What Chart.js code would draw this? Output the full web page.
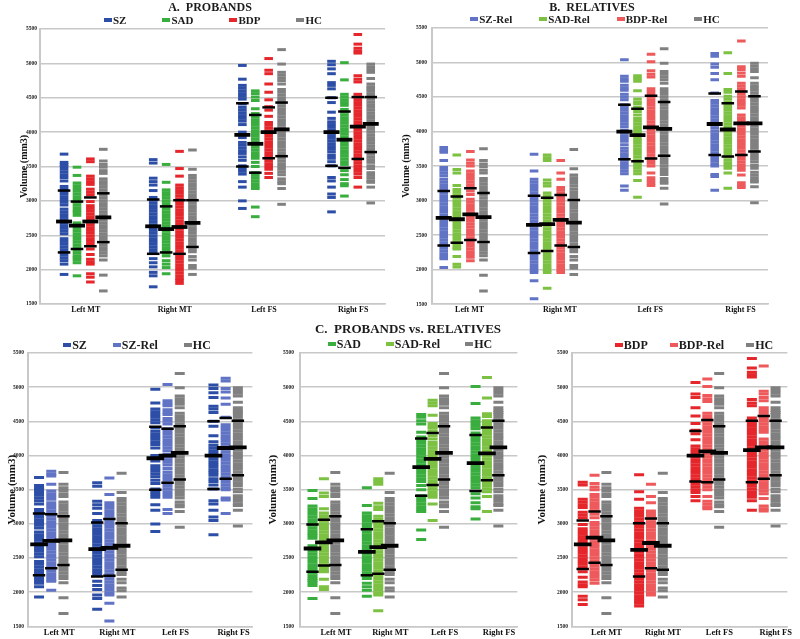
<!DOCTYPE html>
<html>
<head>
<meta charset="utf-8">
<script src="https://cdn.jsdelivr.net/npm/chart.js@4.4.1/dist/chart.umd.min.js"></script>
<style>
html, body { margin: 0; padding: 0; background: #fff; }
body { position: relative; width: 800px; height: 639px; overflow: hidden; font-family: "Liberation Serif", "Times New Roman", serif; }
canvas { position: absolute; }
.ttl { position: absolute; text-align: center; font-weight: bold; white-space: pre; color: #1b1b1b; line-height: 14px; }
.leg { position: absolute; display: flex; justify-content: center; align-items: center; font-weight: bold; color: #1b1b1b; line-height: 14px; }
.leg .item { display: flex; align-items: center; }
.leg i { display: inline-block; width: 8px; height: 4px; margin-right: 1px; }
</style>
</head>
<body>
<canvas id="chartA" width="400" height="316" style="left:0;top:0"></canvas>
<canvas id="chartB" width="400" height="316" style="left:400px;top:0"></canvas>
<canvas id="chartC1" width="265" height="323" style="left:0;top:316px"></canvas>
<canvas id="chartC2" width="265" height="323" style="left:265px;top:316px"></canvas>
<canvas id="chartC3" width="270" height="323" style="left:530px;top:316px"></canvas>

<div class="ttl" style="left:0;width:420px;top:0;font-size:12px">A.  PROBANDS</div>
<div class="ttl" style="left:400px;width:384px;top:0;font-size:12px">B.  RELATIVES</div>
<div class="ttl" style="left:265px;width:286px;top:322px;font-size:13px">C.  PROBANDS vs. RELATIVES</div>

<div class="leg" id="legA" style="left:0;width:426px;top:13px;font-size:11px;gap:36px"></div>
<div class="leg" id="legB" style="left:400px;width:390px;top:12px;font-size:11px;gap:27px"></div>
<div class="leg" id="legC1" style="left:0;width:274px;top:338px;font-size:12px;gap:26px"></div>
<div class="leg" id="legC2" style="left:265px;width:290px;top:337px;font-size:12px;gap:25px"></div>
<div class="leg" id="legC3" style="left:530px;width:328px;top:338px;font-size:12px;gap:22px"></div>

<script>
const regions = ["Left MT", "Right MT", "Left FS", "Right FS"];

// individual subject volumes, one list per region: [Left MT, Right MT, Left FS, Right FS]
const szVals = [
    [3680, 3560, 3530, 3500, 3460, 3420, 3380, 3340, 3290, 3210, 3170, 3130, 3100, 3060, 3020, 2980, 2940, 2880, 2840, 2800, 2760, 2720, 2680, 2640, 2600, 2560, 2520, 2450, 2410, 2370, 2330, 2290, 2250, 2210, 2170, 2130, 2080, 1930],
    [3600, 3550, 3330, 3280, 3230, 3150, 3050, 3010, 2970, 2930, 2890, 2850, 2810, 2770, 2730, 2690, 2650, 2610, 2570, 2530, 2490, 2450, 2410, 2370, 2330, 2290, 2250, 2160, 2100, 2040, 1960, 1910, 1750],
    [4970, 4770, 4680, 4640, 4600, 4560, 4520, 4480, 4410, 4360, 4320, 4280, 4240, 4200, 4160, 4110, 4000, 3960, 3920, 3850, 3810, 3770, 3730, 3690, 3640, 3590, 3510, 3470, 3430, 3390, 3280, 3200, 3000, 2890],
    [5030, 4980, 4920, 4850, 4720, 4680, 4630, 4500, 4430, 4290, 4200, 4150, 4110, 4070, 4030, 3990, 3950, 3910, 3870, 3830, 3790, 3750, 3710, 3660, 3620, 3570, 3510, 3340, 3290, 3200, 3100, 3050, 2840]
];
const sadVals = [
    [3490, 3370, 3260, 3220, 3180, 3140, 3100, 3060, 3020, 2980, 2940, 2900, 2860, 2830, 2790, 2680, 2640, 2600, 2560, 2520, 2480, 2440, 2400, 2360, 2320, 2280, 2240, 2200, 2170, 2140, 2100, 1910],
    [3530, 3270, 3160, 3120, 3080, 3040, 3000, 2960, 2920, 2880, 2840, 2800, 2760, 2720, 2680, 2640, 2600, 2560, 2520, 2480, 2440, 2400, 2360, 2320, 2280, 2240, 2200, 2130, 2080, 2030, 1940],
    [4600, 4560, 4510, 4460, 4340, 4270, 4220, 4180, 4140, 4100, 4060, 4020, 3980, 3940, 3900, 3860, 3820, 3780, 3740, 3700, 3660, 3620, 3560, 3500, 3410, 3370, 3330, 3290, 3250, 3210, 3180, 2910, 2770],
    [5010, 4760, 4550, 4510, 4470, 4430, 4390, 4330, 4290, 4250, 4210, 4170, 4130, 4090, 4050, 4010, 3970, 3930, 3890, 3850, 3810, 3770, 3730, 3690, 3650, 3610, 3570, 3530, 3440, 3380, 3310, 3250, 3220, 3070]
];
const bdpVals = [
    [3610, 3570, 3360, 3320, 3280, 3240, 3170, 3130, 3090, 2990, 2930, 2890, 2850, 2810, 2770, 2730, 2690, 2650, 2610, 2570, 2530, 2490, 2450, 2410, 2370, 2300, 2220, 2150, 2110, 2080, 1940, 1890, 1820],
    [3720, 3470, 3360, 3230, 3190, 3150, 3110, 3070, 3030, 2990, 2950, 2910, 2870, 2830, 2790, 2750, 2710, 2670, 2630, 2590, 2550, 2510, 2470, 2430, 2390, 2350, 2310, 2270, 2230, 2190, 2150, 2110, 2070, 2030, 1990, 1950, 1910, 1870, 1840, 1800],
    [5070, 4900, 4850, 4700, 4580, 4470, 4370, 4320, 4230, 4140, 4100, 4060, 4020, 3980, 3940, 3900, 3860, 3820, 3780, 3740, 3700, 3660, 3620, 3580, 3540, 3500, 3460, 3400, 3340],
    [5420, 5280, 5220, 5180, 5150, 4820, 4770, 4730, 4550, 4510, 4470, 4430, 4390, 4350, 4310, 4270, 4230, 4190, 4150, 4110, 4070, 4030, 3990, 3950, 3910, 3870, 3830, 3790, 3750, 3710, 3670, 3630, 3590, 3550, 3510, 3470, 3430, 3390, 3340, 3200]
];
const hcVals = [
    [3750, 3580, 3530, 3490, 3440, 3400, 3320, 3280, 3240, 3200, 3160, 3120, 3080, 3040, 3000, 2960, 2920, 2880, 2840, 2800, 2760, 2720, 2680, 2640, 2600, 2560, 2520, 2480, 2440, 2400, 2360, 2320, 2280, 2240, 2200, 2140, 1920, 1690],
    [3740, 3460, 3370, 3330, 3290, 3250, 3210, 3170, 3130, 3090, 3050, 3010, 2970, 2930, 2890, 2850, 2810, 2770, 2730, 2690, 2650, 2610, 2570, 2530, 2490, 2450, 2410, 2370, 2330, 2290, 2260, 2190, 2140, 2060, 2020, 1930],
    [5200, 4990, 4870, 4830, 4790, 4750, 4700, 4620, 4580, 4540, 4500, 4460, 4420, 4380, 4340, 4300, 4260, 4220, 4180, 4140, 4100, 4060, 4020, 3980, 3940, 3900, 3860, 3820, 3780, 3740, 3700, 3660, 3620, 3580, 3540, 3500, 3460, 3420, 3380, 3320, 3280, 3250, 3180, 2950],
    [4990, 4950, 4910, 4870, 4780, 4700, 4660, 4630, 4600, 4560, 4520, 4480, 4440, 4400, 4360, 4320, 4280, 4240, 4200, 4160, 4120, 4080, 4040, 4000, 3960, 3920, 3880, 3840, 3800, 3760, 3720, 3680, 3640, 3600, 3560, 3510, 3470, 3410, 3370, 3330, 3290, 3270, 3200, 2970]
];
const szRelVals = [
    [3770, 3730, 3700, 3580, 3480, 3440, 3400, 3360, 3310, 3270, 3230, 3190, 3150, 3110, 3070, 3030, 2990, 2950, 2910, 2870, 2830, 2790, 2750, 2710, 2670, 2630, 2590, 2550, 2510, 2470, 2430, 2390, 2350, 2310, 2270, 2230, 2190, 2160, 2030],
    [3670, 3430, 3310, 3270, 3230, 3190, 3150, 3110, 3070, 3030, 2990, 2950, 2910, 2870, 2830, 2790, 2750, 2710, 2670, 2630, 2590, 2550, 2510, 2470, 2430, 2390, 2350, 2310, 2270, 2230, 2190, 2150, 2110, 2070, 2030, 1990, 1960, 1840, 1580],
    [5040, 4800, 4760, 4730, 4670, 4630, 4600, 4540, 4500, 4460, 4390, 4350, 4310, 4270, 4230, 4190, 4150, 4110, 4070, 4020, 3980, 3940, 3900, 3860, 3810, 3760, 3720, 3680, 3640, 3590, 3550, 3510, 3470, 3430, 3390, 3210, 3150],
    [5130, 5090, 4980, 4930, 4840, 4750, 4560, 4450, 4410, 4370, 4330, 4290, 4250, 4210, 4170, 4130, 4090, 4050, 4010, 3970, 3930, 3890, 3850, 3810, 3770, 3730, 3690, 3650, 3610, 3570, 3530, 3500, 3380, 3350, 3150]
];
const sadRelVals = [
    [3660, 3450, 3400, 3220, 3160, 3120, 3080, 3040, 3000, 2960, 2920, 2880, 2840, 2800, 2760, 2720, 2680, 2640, 2600, 2560, 2520, 2480, 2440, 2400, 2360, 2320, 2300, 2190, 2080, 2040],
    [3660, 3620, 3580, 3300, 3250, 3210, 3110, 3070, 3030, 2990, 2950, 2910, 2870, 2830, 2790, 2750, 2710, 2670, 2630, 2590, 2550, 2510, 2470, 2430, 2390, 2350, 2310, 2270, 2230, 2190, 2150, 2110, 2070, 2030, 1990, 1960, 1730],
    [4810, 4770, 4730, 4590, 4470, 4430, 4400, 4350, 4290, 4240, 4190, 4150, 4110, 4070, 4030, 3990, 3950, 3910, 3870, 3830, 3790, 3750, 3710, 3670, 3630, 3590, 3550, 3510, 3470, 3430, 3390, 3290, 3050],
    [5140, 4840, 4610, 4570, 4510, 4470, 4430, 4390, 4350, 4310, 4270, 4230, 4190, 4150, 4110, 4070, 4030, 3990, 3950, 3910, 3870, 3830, 3790, 3750, 3710, 3670, 3630, 3590, 3550, 3510, 3470, 3400, 3180]
];
const bdpRelVals = [
    [3710, 3590, 3540, 3500, 3430, 3390, 3350, 3310, 3270, 3230, 3190, 3140, 3090, 3020, 2980, 2940, 2900, 2860, 2820, 2780, 2740, 2700, 2660, 2620, 2580, 2540, 2500, 2460, 2420, 2380, 2340, 2300, 2260, 2220, 2180, 2130],
    [3580, 3400, 3310, 3190, 3150, 3110, 3070, 3030, 2990, 2950, 2910, 2870, 2830, 2790, 2750, 2710, 2670, 2630, 2590, 2550, 2510, 2470, 2430, 2390, 2350, 2310, 2270, 2230, 2190, 2150, 2110, 2070, 2030, 1990, 1960],
    [5120, 5010, 4880, 4830, 4790, 4620, 4580, 4540, 4500, 4460, 4420, 4380, 4340, 4300, 4260, 4220, 4180, 4140, 4100, 4060, 4020, 3980, 3940, 3900, 3860, 3820, 3780, 3740, 3700, 3660, 3620, 3580, 3540, 3500, 3400, 3330, 3290, 3250, 3220],
    [5310, 4940, 4900, 4850, 4800, 4700, 4660, 4620, 4580, 4540, 4500, 4460, 4420, 4380, 4340, 4240, 4200, 4160, 4120, 4080, 4040, 4000, 3960, 3920, 3880, 3840, 3800, 3760, 3720, 3680, 3640, 3600, 3560, 3520, 3480, 3440, 3370, 3260, 3220, 3190]
];

// black bars: [25th percentile, median, 75th percentile] per region
const szQuart = [[2250, 2700, 3150], [2230, 2630, 3020], [3500, 3960, 4420], [3510, 4000, 4500]];
const sadQuart = [[2300, 2640, 2990], [2250, 2590, 2920], [3410, 3830, 4250], [3480, 3890, 4300]];
const bdpQuart = [[2340, 2700, 3050], [2230, 2620, 3010], [3620, 4000, 4360], [3610, 4080, 4510]];
const hcQuart = [[2400, 2760, 3110], [2330, 2680, 3010], [3650, 4040, 4430], [3710, 4120, 4510]];
const szRelQuart = [[2350, 2750, 3140], [2240, 2650, 3070], [3600, 4000, 4390], [3660, 4110, 4550]];
const sadRelQuart = [[2390, 2730, 3060], [2270, 2660, 3040], [3570, 3950, 4330], [3640, 4030, 4410]];
const bdpRelQuart = [[2430, 2800, 3180], [2350, 2720, 3080], [3610, 4060, 4520], [3660, 4120, 4580]];

const yTicks = { min: 1500, max: 5500, step: 500 };

const SZ = { name: "SZ", color: "#2c4ea6", values: szVals, quart: szQuart };
const SAD = { name: "SAD", color: "#39ad3e", values: sadVals, quart: sadQuart };
const BDP = { name: "BDP", color: "#e5262b", values: bdpVals, quart: bdpQuart };
const HC = { name: "HC", color: "#808080", values: hcVals, quart: hcQuart };
const SZR = { name: "SZ-Rel", color: "#6173c4", values: szRelVals, quart: szRelQuart };
const SADR = { name: "SAD-Rel", color: "#7cc142", values: sadRelVals, quart: sadRelQuart };
const BDPR = { name: "BDP-Rel", color: "#ee5a5c", values: bdpRelVals, quart: bdpRelQuart };

const FONT = "'Liberation Serif', 'Times New Roman', serif";

function makeLegend(id, groups) {
    const box = document.getElementById(id);
    groups.forEach(g => {
        const item = document.createElement("span");
        item.className = "item";
        const sw = document.createElement("i");
        sw.style.background = g.color;
        item.appendChild(sw);
        item.appendChild(document.createTextNode(g.name));
        box.appendChild(item);
    });
}

function makePanel(id, groups, cfg) {
    const datasets = [];
    const quart = [];
    const med = [];

    groups.forEach((g, gi) => {
        const off = cfg.offsets[gi];
        const pts = [];
        g.values.forEach((list, r) => list.forEach(v => pts.push({ x: r + off, y: v })));
        g.quart.forEach((q, r) => {
            quart.push({ x: r + off, y: q[0] }, { x: r + off, y: q[2] });
            med.push({ x: r + off, y: q[1] });
        });
        datasets.push({
            label: g.name,
            data: pts,
            order: 2,
            pointStyle: "line",
            pointRadius: cfg.dash,
            pointBorderWidth: 3,
            pointBorderColor: g.color,
            borderColor: g.color,
            backgroundColor: g.color
        });
    });

    datasets.push({
        label: "quartiles", data: quart, order: 1, pointStyle: "line",
        pointRadius: cfg.qLen, pointBorderWidth: 2.5, pointBorderColor: "#000", borderColor: "#000"
    });
    datasets.push({
        label: "median", data: med, order: 0, pointStyle: "line",
        pointRadius: cfg.mLen, pointBorderWidth: 3.8, pointBorderColor: "#000", borderColor: "#000"
    });

    new Chart(document.getElementById(id), {
        type: "scatter",
        data: { datasets },
        options: {
            responsive: false,
            animation: false,
            events: [],
            layout: { padding: { top: cfg.top, right: cfg.right, left: 0, bottom: 0 } },
            plugins: { legend: { display: false }, tooltip: { enabled: false } },
            scales: {
                x: {
                    type: "linear",
                    min: cfg.xMin,
                    max: cfg.xMax,
                    afterFit: s => { s.height = cfg.xH; },
                    afterBuildTicks: s => { s.ticks = regions.map((_, i) => ({ value: i })); },
                    grid: { display: false, drawTicks: false },
                    border: { display: true, color: "#c8c8c8", width: 1.5 },
                    ticks: {
                        callback: (v, i) => regions[i],
                        autoSkip: false,
                        maxRotation: 0,
                        padding: 1,
                        labelOffset: cfg.labelOffset,
                        color: "#111",
                        font: { family: FONT, size: cfg.xFont, weight: "bold" }
                    }
                },
                y: {
                    min: yTicks.min,
                    max: yTicks.max,
                    afterFit: s => { s.width = cfg.yW; },
                    grid: { color: "#c8c8c8", lineWidth: 1.5, drawTicks: false },
                    border: { display: true, color: "#c8c8c8", width: 2 },
                    ticks: {
                        stepSize: yTicks.step,
                        padding: cfg.tickPad,
                        color: "#222",
                        callback: v => String(v),
                        font: { family: FONT, size: 5.5, weight: "bold" }
                    },
                    title: {
                        display: true,
                        text: "Volume (mm3)",
                        color: "#111",
                        padding: { top: cfg.titlePad, bottom: 0 },
                        font: { family: FONT, size: cfg.yTitle, weight: "bold" }
                    }
                }
            }
        }
    });
}

const wide = [-0.22, -0.075, 0.075, 0.22];
const three = [-0.21, 0, 0.21];

makePanel("chartA", [SZ, SAD, BDP, HC], {
    offsets: wide, dash: 4.3, qLen: 6.3, mLen: 8, top: 29, right: 15, xH: 12, yW: 40,
    xMin: -0.49, xMax: 3.38, labelOffset: 2, xFont: 8, tickPad: 3, titlePad: 18, yTitle: 10
});
makePanel("chartB", [SZR, SADR, BDPR, HC], {
    offsets: wide, dash: 4.3, qLen: 6.3, mLen: 8, top: 28, right: 32, xH: 11, yW: 32,
    xMin: -0.35, xMax: 3.37, labelOffset: 6, xFont: 8, tickPad: 5, titlePad: 0, yTitle: 10
});
makePanel("chartC1", [SZ, SZR, HC], {
    offsets: three, dash: 5, qLen: 6.2, mLen: 8.8, top: 37, right: 8, xH: 10, yW: 28,
    xMin: -0.4, xMax: 3.46, labelOffset: 8, xFont: 8.5, tickPad: 4, titlePad: 6, yTitle: 11
});
makePanel("chartC2", [SAD, SADR, HC], {
    offsets: three, dash: 5, qLen: 6.2, mLen: 8.8, top: 37, right: 2, xH: 10, yW: 35,
    xMin: -0.44, xMax: 3.56, labelOffset: 12, xFont: 8.5, tickPad: 6, titlePad: 2, yTitle: 11
});
makePanel("chartC3", [BDP, BDPR, HC], {
    offsets: three, dash: 5, qLen: 6.2, mLen: 8.8, top: 37, right: 0, xH: 10, yW: 42,
    xMin: -0.4, xMax: 3.42, labelOffset: 12, xFont: 8.5, tickPad: 4, titlePad: 6, yTitle: 11
});

makeLegend("legA", [SZ, SAD, BDP, HC]);
makeLegend("legB", [SZR, SADR, BDPR, HC]);
makeLegend("legC1", [SZ, SZR, HC]);
makeLegend("legC2", [SAD, SADR, HC]);
makeLegend("legC3", [BDP, BDPR, HC]);
</script>
</body>
</html>
